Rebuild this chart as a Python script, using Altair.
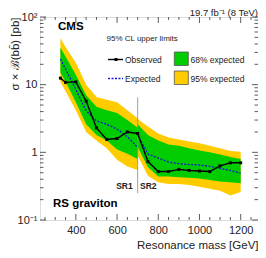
import altair as alt
import pandas as pd

# ---------------- data ----------------
sr1_mass = [325, 350, 400, 450, 500, 550, 600, 650, 700]
sr1_exp = [24, 17, 8.5, 4.1, 2.9, 2.6, 2.2, 1.7, 1.18]
sr1_g_hi = [35, 26, 14, 7.0, 4.7, 4.2, 3.8, 3.0, 2.3]
sr1_g_lo = [15, 11, 5.5, 2.6, 1.8, 1.5, 1.1, 0.95, 0.8]
sr1_y_hi = [49, 36, 21, 10, 6.6, 6.0, 5.5, 4.2, 3.2]
sr1_y_lo = [11, 8, 4.2, 2.0, 1.5, 1.15, 0.78, 0.62, 0.55]

sr2_mass = [700, 750, 800, 850, 900, 950, 1000, 1050, 1100, 1150, 1200]
sr2_exp = [1.8, 0.94, 0.82, 0.72, 0.68, 0.66, 0.65, 0.62, 0.58, 0.54, 0.49]
sr2_g_hi = [2.6, 1.8, 1.5, 1.3, 1.25, 1.15, 1.06, 1.0, 0.93, 0.85, 0.8]
sr2_g_lo = [1.2, 0.6, 0.44, 0.44, 0.43, 0.42, 0.41, 0.39, 0.37, 0.36, 0.35]
sr2_y_hi = [3.1, 2.4, 1.9, 1.65, 1.55, 1.45, 1.36, 1.25, 1.15, 1.05, 1.02]
sr2_y_lo = [0.9, 0.45, 0.36, 0.34, 0.34, 0.33, 0.31, 0.29, 0.27, 0.23, 0.26]

obs_mass = [325, 350, 400, 450, 500, 550, 600, 650, 700, 750, 800, 850,
            900, 950, 1000, 1050, 1100, 1150, 1200]
obs_val = [12.5, 10.8, 11.0, 5.7, 2.3, 1.55, 1.6, 2.0, 1.9, 0.73, 0.52, 0.52,
           0.56, 0.54, 0.53, 0.52, 0.63, 0.70, 0.70]

divider_mass = 700
divider_top = 6.5
divider_bottom = 0.25

x_major = [400, 600, 800, 1000, 1200]
x_minor = [250, 300, 350, 450, 500, 550, 650, 700, 750, 850, 900, 950,
           1050, 1100, 1150, 1250]
y_major = [0.1, 1, 10, 100]
y_minor = [m * d for d in (0.1, 1, 10) for m in range(2, 10)]

x_domain = [226, 1284]
y_domain = [0.1, 100]

# ---------------- frames ----------------
bands = pd.DataFrame({
    "mass": sr1_mass + sr2_mass,
    "region": ["SR1"] * len(sr1_mass) + ["SR2"] * len(sr2_mass),
    "exp": sr1_exp + sr2_exp,
    "g_hi": sr1_g_hi + sr2_g_hi,
    "g_lo": sr1_g_lo + sr2_g_lo,
    "y_hi": sr1_y_hi + sr2_y_hi,
    "y_lo": sr1_y_lo + sr2_y_lo,
})
obs = pd.DataFrame({"mass": obs_mass, "val": obs_val})
div = pd.DataFrame({"mass": [divider_mass], "top": [divider_top], "bot": [divider_bottom]})
xmaj = pd.DataFrame({"v": x_major})
xmin = pd.DataFrame({"v": x_minor})
ymaj = pd.DataFrame({"v": y_major})
ymin = pd.DataFrame({"v": y_minor})

W, H = 218, 203
FONT = "Liberation Sans"
xs = alt.Scale(domain=x_domain, nice=False, zero=False)
ys = alt.Scale(type="log", domain=y_domain, nice=False)

YELLOW = "#FFCC00"
GREEN = "#00CC00"
BLUE = "#1515D0"

yellow = alt.Chart(bands).mark_area(color=YELLOW, opacity=1).encode(
    x=alt.X("mass:Q", scale=xs, axis=alt.Axis(
        values=x_major, format="d", ticks=False, domain=False, grid=False, labelFont=FONT,
        labelFontSize=11, labelColor="#222", labelPadding=4, title="Resonance mass [GeV]",
        titleFont=FONT, titleFontSize=11.5, titleFontWeight="normal", titleColor="#222",
        titleAnchor="end", titlePadding=4)),
    y=alt.Y("y_hi:Q", scale=ys, axis=alt.Axis(
        values=y_major, ticks=False, domain=False, grid=False, labelFont=FONT,
        labelFontSize=11, labelColor="#222", labelPadding=3,
        labelExpr="datum.value >= 100 ? '10²' : datum.value >= 10 ? '10' : datum.value >= 1 ? '1' : '10⁻¹'",
        title="σ × ℬ(bb̄) [pb]", titleFont=FONT, titleFontSize=11.5,
        titleFontWeight="normal", titleColor="#222", titleAngle=270,
        titleAlign="right", titleBaseline="middle", titleX=-25, titleY=0)),
    y2="y_lo:Q",
    detail="region:N",
)
green = alt.Chart(bands).mark_area(color=GREEN, opacity=1).encode(
    x=alt.X("mass:Q", scale=xs), y=alt.Y("g_hi:Q", scale=ys), y2="g_lo:Q",
    detail="region:N")
expected = alt.Chart(bands).mark_line(color=BLUE, strokeDash=[2, 1.5], strokeWidth=1.3).encode(
    x=alt.X("mass:Q", scale=xs), y=alt.Y("exp:Q", scale=ys), detail="region:N")
divider = alt.Chart(div).mark_rule(color="#888888", strokeWidth=0.8).encode(
    x=alt.X("mass:Q", scale=xs), y=alt.Y("top:Q", scale=ys), y2="bot:Q")
obs_line = alt.Chart(obs).mark_line(color="black", strokeWidth=1.4).encode(
    x=alt.X("mass:Q", scale=xs), y=alt.Y("val:Q", scale=ys))
obs_pts = alt.Chart(obs).mark_point(shape="square", filled=True, color="black",
                                   size=9, opacity=1).encode(
    x=alt.X("mass:Q", scale=xs), y=alt.Y("val:Q", scale=ys))

def xticks(df, length):
    b = alt.Chart(df).mark_rule(color="#333", strokeWidth=0.8).encode(
        x=alt.X("v:Q", scale=xs), y=alt.value(H), y2=alt.value(H - length))
    t = alt.Chart(df).mark_rule(color="#333", strokeWidth=0.8).encode(
        x=alt.X("v:Q", scale=xs), y=alt.value(0), y2=alt.value(length))
    return [b, t]

def yticks(df, length):
    l = alt.Chart(df).mark_rule(color="#333", strokeWidth=0.8).encode(
        y=alt.Y("v:Q", scale=ys), x=alt.value(0), x2=alt.value(length))
    r = alt.Chart(df).mark_rule(color="#333", strokeWidth=0.8).encode(
        y=alt.Y("v:Q", scale=ys), x=alt.value(W), x2=alt.value(W - length))
    return [l, r]

ticks = xticks(xmaj, 6) + xticks(xmin, 3) + yticks(ymaj, 6) + yticks(ymin, 3.5)

one = pd.DataFrame({"k": [0]})

def label(text, x, y, size=8.5, weight="normal", align="left", color="#222",
          baseline="middle"):
    return alt.Chart(one).mark_text(text=text, font=FONT, fontSize=size, fontWeight=weight,
                                    align=align, baseline=baseline, color=color).encode(
        x=alt.value(x), y=alt.value(y))

texts = [
    label("CMS", 18, 10, size=11.5, weight="bold", color="black"),
    label("RS graviton", 13, 186.5, size=11.5, weight="bold", color="black"),
    label("95% CL upper limits", 66.5, 21.5, size=8),
    label("Observed", 85, 42.5),
    label("Expected", 85, 61.5),
    label("68% expected", 150.5, 42.5),
    label("95% expected", 150.5, 61.5),
    label("SR1", 92.7, 169, size=8.5, weight="bold", align="right"),
    label("SR2", 100, 169, size=8.5, weight="bold"),
    label("19.7 fb⁻¹ (8 TeV)", W, -1.5, size=9.5, align="right", baseline="alphabetic"),
]

leg = [
    alt.Chart(one).mark_rule(color="black", strokeWidth=1.4).encode(
        x=alt.value(68), x2=alt.value(83), y=alt.value(42.5)),
    alt.Chart(one).mark_point(shape="square", filled=True, color="black", size=9, opacity=1).encode(
        x=alt.value(76), y=alt.value(42.5)),
    alt.Chart(one).mark_rule(color=BLUE, strokeWidth=1.3, strokeDash=[2, 1.5]).encode(
        x=alt.value(68), x2=alt.value(83), y=alt.value(61.5)),
    alt.Chart(one).mark_rect(color=GREEN, stroke="#555", strokeWidth=0.8).encode(
        x=alt.value(134.3), x2=alt.value(148.3), y=alt.value(35), y2=alt.value(48.5)),
    alt.Chart(one).mark_rect(color=YELLOW, stroke="#555", strokeWidth=0.8).encode(
        x=alt.value(134.3), x2=alt.value(148.3), y=alt.value(54), y2=alt.value(67.5)),
]

chart = alt.layer(yellow, green, expected, divider, obs_line, obs_pts, *ticks, *leg, *texts).properties(
    width=W, height=H,
    autosize=alt.AutoSizeParams(type="none"),
    padding={"left": 32, "top": 9, "right": 0, "bottom": 34},
).configure_view(stroke="#222", strokeWidth=1).configure(background="white")

chart.save("out.html", embed_options={"renderer": "svg", "actions": False})
